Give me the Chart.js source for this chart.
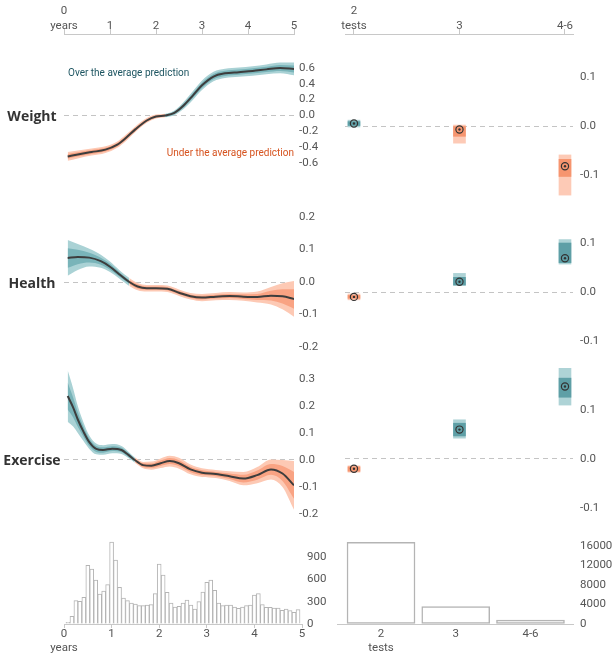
<!DOCTYPE html>
<html>
<head>
<meta charset="utf-8">
<script src="https://cdn.jsdelivr.net/npm/chart.js@4.4.1/dist/chart.umd.min.js"></script>
<style>
  body { margin: 0; background: #fff; }
  #wrap { position: relative; width: 615px; height: 662px; overflow: hidden; }
  #wrap canvas { position: absolute; }
  .row { position: absolute; left: 0; width: 64px; text-align: center; font: bold 14px "Open Sans", sans-serif; color: #333; transform: translateY(-50%); }
  .note { position: absolute; font: 10px Roboto, sans-serif; transform: translateY(-50%); white-space: nowrap; }
</style>
</head>
<body>
<div id="wrap">
  <canvas id="weightTrend" width="330" height="190" style="left:0;top:0"></canvas>
  <canvas id="healthTrend" width="330" height="170" style="left:0;top:190px"></canvas>
  <canvas id="exerciseTrend" width="330" height="170" style="left:0;top:360px"></canvas>
  <canvas id="ageHist" width="330" height="126" style="left:0;top:536px"></canvas>
  <canvas id="weightTests" width="295" height="200" style="left:320px;top:0"></canvas>
  <canvas id="healthTests" width="295" height="160" style="left:320px;top:200px"></canvas>
  <canvas id="exerciseTests" width="295" height="170" style="left:320px;top:360px"></canvas>
  <canvas id="testsHist" width="295" height="126" style="left:320px;top:536px"></canvas>

  <div class="row" style="top:115px">Weight</div>
  <div class="row" style="top:282px">Health</div>
  <div class="row" style="top:459px">Exercise</div>
  <div class="note" style="left:68px;top:72px;color:#1d5561">Over the average prediction</div>
  <div class="note" style="right:321px;top:152px;color:#d6531f">Under the average prediction</div>
</div>
<script>
// axis ticks
const yearTicks = [0, 1, 2, 3, 4, 5];
const testLabels = ['2', '3', '4-6'];
const weightTicks = [-0.6, -0.4, -0.2, 0, 0.2, 0.4, 0.6];
const healthTicks = [-0.2, -0.1, 0, 0.1, 0.2];
const exerciseTicks = [-0.2, -0.1, 0, 0.1, 0.2, 0.3];
const testTicks = [-0.1, 0, 0.1];
const ageCountTicks = [0, 300, 600, 900];
const testCountTicks = [0, 4000, 8000, 12000, 16000];

// effect of age (years), mean and half widths of the two bands
const weightAge = [0.08, 0.3, 0.6, 0.9, 1.15, 1.35, 1.55, 1.8, 2.0, 2.2, 2.4, 2.6, 2.8, 3.0, 3.25, 3.5, 3.8, 4.1, 4.4, 4.7, 5.0];
const weightMean = [-0.515, -0.49, -0.46, -0.43, -0.37, -0.28, -0.175, -0.063, -0.013, 0, 0.033, 0.125, 0.25, 0.38, 0.49, 0.53, 0.545, 0.56, 0.58, 0.598, 0.585];
const weightOuter = [0.055, 0.05, 0.045, 0.042, 0.04, 0.04, 0.036, 0.03, 0.025, 0.022, 0.03, 0.045, 0.055, 0.06, 0.06, 0.058, 0.058, 0.06, 0.062, 0.068, 0.08];
const weightInner = [0.03, 0.027, 0.025, 0.023, 0.022, 0.022, 0.02, 0.017, 0.014, 0.012, 0.016, 0.025, 0.03, 0.033, 0.033, 0.032, 0.032, 0.033, 0.034, 0.037, 0.044];

const healthAge = [0.08, 0.3, 0.55, 0.8, 1.0, 1.2, 1.42, 1.6, 1.8, 2.0, 2.25, 2.5, 2.75, 3.0, 3.3, 3.6, 3.9, 4.2, 4.5, 4.75, 5.0];
const healthMean = [0.074, 0.077, 0.075, 0.064, 0.047, 0.024, 0, -0.014, -0.019, -0.019, -0.021, -0.033, -0.044, -0.048, -0.045, -0.043, -0.045, -0.046, -0.042, -0.044, -0.052];
const healthOuter = [0.055, 0.04, 0.027, 0.02, 0.016, 0.013, 0.012, 0.011, 0.01, 0.01, 0.01, 0.01, 0.01, 0.011, 0.011, 0.012, 0.013, 0.017, 0.027, 0.04, 0.055];
const healthInner = [0.03, 0.022, 0.015, 0.011, 0.009, 0.007, 0.006, 0.006, 0.005, 0.005, 0.005, 0.005, 0.005, 0.006, 0.006, 0.006, 0.007, 0.009, 0.015, 0.022, 0.03];

const exerciseAge = [0.08, 0.2, 0.3, 0.42, 0.55, 0.7, 0.85, 1.05, 1.25, 1.4, 1.54, 1.72, 1.9, 2.1, 2.3, 2.5, 2.75, 3.0, 3.3, 3.6, 3.9, 4.2, 4.5, 4.75, 5.0];
const exerciseMean = [0.237, 0.194, 0.15, 0.106, 0.066, 0.041, 0.037, 0.042, 0.037, 0.019, 0, -0.019, -0.021, -0.012, -0.004, -0.012, -0.035, -0.047, -0.052, -0.06, -0.069, -0.056, -0.035, -0.05, -0.094];
const exerciseOuter = [0.095, 0.07, 0.05, 0.035, 0.025, 0.02, 0.018, 0.017, 0.015, 0.012, 0.01, 0.012, 0.015, 0.018, 0.02, 0.02, 0.018, 0.016, 0.015, 0.018, 0.025, 0.03, 0.037, 0.05, 0.09];
const exerciseInner = [0.05, 0.037, 0.027, 0.019, 0.014, 0.011, 0.01, 0.009, 0.008, 0.007, 0.006, 0.007, 0.008, 0.01, 0.011, 0.011, 0.01, 0.009, 0.008, 0.01, 0.014, 0.017, 0.02, 0.028, 0.05];

// effect of number of tests: estimate, inner and outer intervals
const weightTestMean = [0.005, -0.007, -0.082];
const weightTestInner = [[0.001, 0.009], [-0.021, 0.0], [-0.103, -0.068]];
const weightTestOuter = [[-0.002, 0.012], [-0.035, 0.002], [-0.141, -0.059]];
const healthTestMean = [-0.01, 0.021, 0.069];
const healthTestInner = [[-0.013, -0.007], [0.014, 0.03], [0.06, 0.1]];
const healthTestOuter = [[-0.016, -0.004], [0.014, 0.038], [0.057, 0.107]];
const exerciseTestMean = [-0.02, 0.06, 0.148];
const exerciseTestInner = [[-0.025, -0.016], [0.047, 0.073], [0.126, 0.165]];
const exerciseTestOuter = [[-0.027, -0.014], [0.0425, 0.08], [0.11, 0.185]];

// counts: monthly age bins (months 1..59) and tests per child
const ageCounts = [22, 103, 314, 305, 358, 788, 739, 591, 403, 444, 529, 1102, 860, 493, 349, 314, 282, 269, 246, 246, 255, 260, 408, 806, 659, 426, 282, 228, 237, 282, 323, 255, 202, 300, 430, 560, 591, 452, 282, 246, 255, 255, 228, 211, 228, 246, 255, 390, 408, 260, 224, 224, 215, 215, 184, 202, 179, 157, 193];
const testCounts = [16760, 3550, 820];

const TEAL_OUT = '#aad2d5', TEAL_IN = '#79b4b9';
const ORANGE_OUT = '#fdc9b4', ORANGE_IN = '#f9a383';
const TEAL_BOX_OUT = '#aed3d6', TEAL_BOX_IN = '#5e9fa6';
const ORANGE_BOX_OUT = '#fdcab6', ORANGE_BOX_IN = '#f6956f';
const AXIS = '#c8c8c8';
const BAR_EDGE = '#b4b4b4';
const tickFont = { family: 'Roboto', size: 11.5, lineHeight: 1.25 };

Chart.defaults.font.family = 'Roboto, sans-serif';
Chart.defaults.color = '#555';
Chart.defaults.animation = false;
Chart.defaults.responsive = false;
Chart.defaults.layout.autoPadding = false;
Chart.defaults.plugins.legend.display = false;
Chart.defaults.plugins.tooltip.enabled = false;

const fixedTicks = list => s => { s.ticks = list.map(v => ({ value: v })); };
const yearLabel = v => v === 0 ? ['0', 'years'] : String(v);
const testLabel = v => v === 0 ? [testLabels[0], 'tests'] : testLabels[v];

// keep chart areas exactly where the layout puts them
const noPad = s => { s.paddingTop = 0; s.paddingBottom = 0; s.paddingLeft = 0; s.paddingRight = 0; };

function topAxis(min, max, values, label) {
  return {
    type: 'linear', position: 'top', min, max, offset: false,
    afterBuildTicks: fixedTicks(values),
    afterFit: s => { s.height = 34; noPad(s); },
    grid: { drawOnChartArea: false, tickLength: 5, color: AXIS, offset: false },
    border: { color: AXIS },
    ticks: { padding: -4, font: tickFont, maxRotation: 0, autoSkip: false, callback: label }
  };
}

function bottomAxis(min, max, values, label, tickLen) {
  return {
    type: 'linear', position: 'bottom', min, max, offset: false,
    afterBuildTicks: fixedTicks(values),
    afterFit: s => { s.height = 38; noPad(s); },
    grid: { drawOnChartArea: false, drawTicks: tickLen > 0, tickLength: tickLen, color: AXIS, offset: false },
    border: { color: AXIS },
    ticks: { padding: tickLen > 0 ? -1 : 3, font: tickFont, maxRotation: 0, autoSkip: false, callback: label }
  };
}

const hiddenX = (min, max) => ({ type: 'linear', min, max, display: false, offset: false });

function valueAxis(min, max, list, width, pad, fmt) {
  return {
    position: 'right', min, max,
    afterBuildTicks: fixedTicks(list),
    afterFit: s => { s.width = width; noPad(s); },
    grid: { drawTicks: false, lineWidth: 1, color: c => (fmt && c.tick && c.tick.value === 0) ? '#c4c4c4' : 'rgba(0,0,0,0)' },
    border: { display: false, dash: [5, 4] },
    ticks: { padding: pad, font: tickFont, callback: fmt || (v => String(v)) }
  };
}
const oneDecimal = v => v.toFixed(1);

function trendChart(id, age, mean, inner, outer, yMin, yMax, list, withTop) {
  const shifted = (w, s) => age.map((t, i) => ({ x: t, y: mean[i] + s * w[i] }));
  const bySign = (pos, neg) => c => (mean[c.p0DataIndex] + mean[c.p1DataIndex] > 0 ? pos : neg);
  const edge = { borderWidth: 0, pointRadius: 0, cubicInterpolationMode: 'monotone' };
  new Chart(document.getElementById(id), {
    type: 'line',
    data: {
      datasets: [
        { ...edge, data: shifted(outer, 1), fill: false, order: 3 },
        { ...edge, data: shifted(outer, -1), fill: 0, backgroundColor: TEAL_OUT,
          segment: { backgroundColor: bySign(TEAL_OUT, ORANGE_OUT) }, order: 2 },
        { ...edge, data: shifted(inner, 1), fill: false, order: 3 },
        { ...edge, data: shifted(inner, -1), fill: 2, backgroundColor: TEAL_IN,
          segment: { backgroundColor: bySign(TEAL_IN, ORANGE_IN) }, order: 1 },
        { data: age.map((t, i) => ({ x: t, y: mean[i] })), borderColor: '#3d3d3d', borderWidth: 2,
          pointRadius: 0, fill: false, cubicInterpolationMode: 'monotone', order: 0 }
      ]
    },
    options: {
      layout: { padding: { left: 64 } },
      scales: {
        x: withTop ? topAxis(0, 5, yearTicks, yearLabel) : hiddenX(0, 5),
        y: valueAxis(yMin, yMax, list, 36, 5, oneDecimal)
      }
    }
  });
}

function testChart(id, mean, inner, outer, yMin, yMax, withTop) {
  const up = mean.map(m => m > 0);
  const box = (ranges, posC, negC) => ({
    type: 'bar', grouped: false, barThickness: 12, borderWidth: 0,
    data: ranges.map((r, i) => ({ x: i, y: r })),
    backgroundColor: up.map(p => p ? posC : negC)
  });
  const pts = mean.map((m, i) => ({ x: i, y: m }));
  new Chart(document.getElementById(id), {
    type: 'bar',
    data: {
      datasets: [
        { ...box(outer, TEAL_BOX_OUT, ORANGE_BOX_OUT), order: 3 },
        { ...box(inner, TEAL_BOX_IN, ORANGE_BOX_IN), order: 2 },
        { type: 'scatter', data: pts, pointRadius: 3.6, pointBorderWidth: 1.2, pointBorderColor: '#333',
          pointBackgroundColor: 'rgba(0,0,0,0)', order: 1 },
        { type: 'scatter', data: pts, pointRadius: 1.2, pointBorderWidth: 0, pointBackgroundColor: '#333', order: 0 }
      ]
    },
    options: {
      layout: { padding: { left: 25 } },
      scales: {
        x: withTop ? topAxis(-0.085, 2.076, [0, 1, 2], testLabel) : hiddenX(-0.085, 2.076),
        y: valueAxis(yMin, yMax, testTicks, 42, 7, oneDecimal)
      }
    }
  });
}

trendChart('weightTrend', weightAge, weightMean, weightInner, weightOuter, -0.9375, 1.025, weightTicks, true);
trendChart('healthTrend', healthAge, healthMean, healthInner, healthOuter, -0.24, 0.2831, healthTicks, false);
trendChart('exerciseTrend', exerciseAge, exerciseMean, exerciseInner, exerciseOuter, -0.2593, 0.3704, exerciseTicks, false);

testChart('weightTests', weightTestMean, weightTestInner, weightTestOuter, -0.151, 0.1878, true);
testChart('healthTests', healthTestMean, healthTestInner, healthTestOuter, -0.1388, 0.1878, false);
testChart('exerciseTests', exerciseTestMean, exerciseTestInner, exerciseTestOuter, -0.1449, 0.202, false);

new Chart(document.getElementById('ageHist'), {
  type: 'bar',
  data: {
    datasets: [{
      data: ageCounts.map((c, i) => ({ x: (i + 1) / 12, y: c })),
      backgroundColor: '#fff', borderColor: BAR_EDGE, borderWidth: 1,
      barPercentage: 1, categoryPercentage: 1
    }]
  },
  options: {
    layout: { padding: { left: 64 } },
    scales: {
      x: bottomAxis(0, 5, yearTicks, yearLabel, 4),
      y: valueAxis(0, 1183, ageCountTicks, 28, 5, null)
    }
  }
});

new Chart(document.getElementById('testsHist'), {
  type: 'bar',
  data: {
    datasets: [{
      data: testCounts.map((c, i) => ({ x: i, y: c })),
      backgroundColor: '#fff', borderColor: BAR_EDGE, borderWidth: 1.5, borderSkipped: false,
      barThickness: 68
    }]
  },
  options: {
    layout: { padding: { left: 17 } },
    scales: {
      x: bottomAxis(-0.589, 2.569, [0, 1, 2], testLabel, 0),
      y: valueAxis(0, 18050, testCountTicks, 42, 7, null)
    }
  }
});
</script>
</body>
</html>
